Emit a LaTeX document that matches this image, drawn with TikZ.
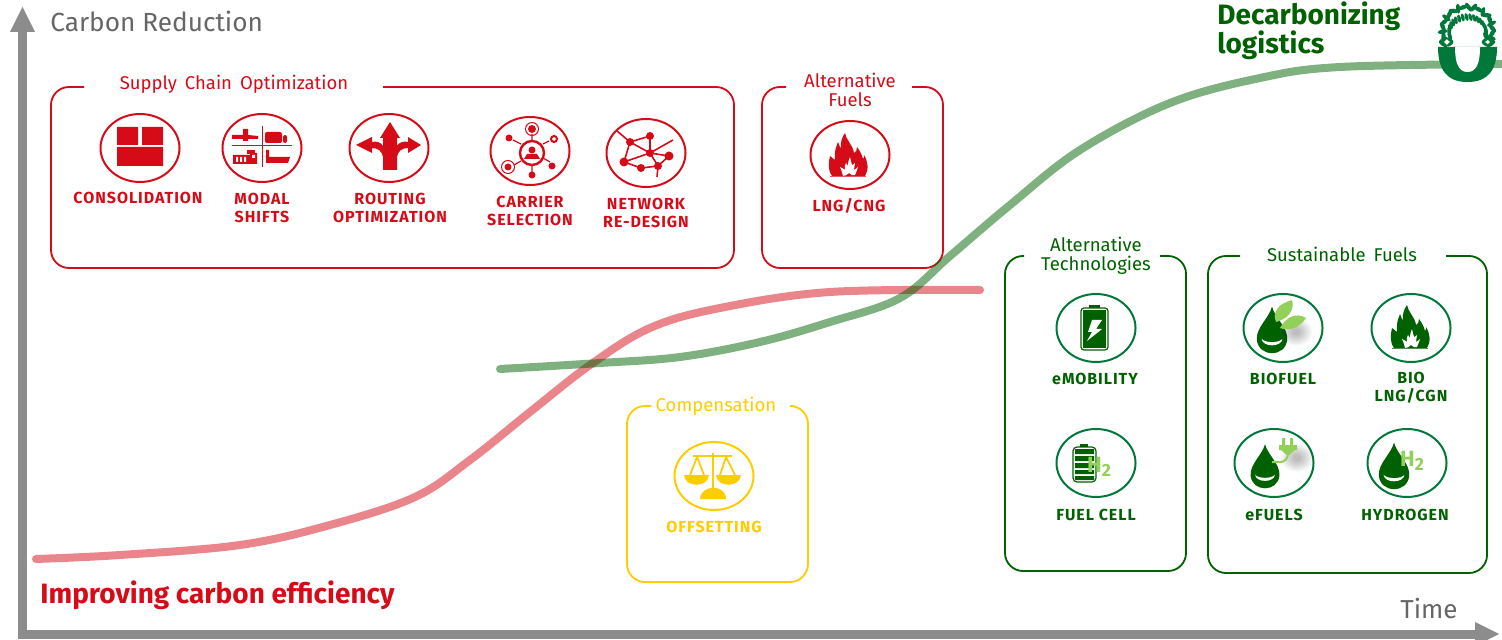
\documentclass[tikz,border=0pt]{standalone}
\usepackage{fontspec}
\setmainfont{Fira Sans}
\newfontfamily\labfont[LetterSpace=6]{Fira Sans}
\usetikzlibrary{arrows.meta,shapes.geometric}
\definecolor{cred}{HTML}{D50C18}
\definecolor{cgreen}{HTML}{006100}
\definecolor{cring}{HTML}{00783A}
\definecolor{clime}{HTML}{93D05A}
\definecolor{cyel}{HTML}{FFCC00}
\definecolor{cgray}{HTML}{8C8C8C}
\tikzset{
 ring/.style={ellipse,draw=#1,line width=1pt,minimum width=39.5pt,minimum height=34pt,inner sep=0pt,fill=white},
 lab/.style={font=\labfont\fontsize{8}{9}\selectfont\bfseries,align=center,text=#1},
 boxtitle/.style={font=\fontsize{9.25}{9.5}\selectfont,align=center,text=#1},
 frame/.style={draw=#1,line width=0.9pt,rounded corners=9pt},
 axis/.style={draw=cgray,line width=4.5pt},
 leafmark/.style={fill=cring},
}
\newcommand{\boxopen}[7]{% colour, gapL, L, top, R, bot, gapR
 \draw[frame=#1] (#2,#4) -- (#3,#4) -- (#3,#6) -- (#5,#6) -- (#5,#4) -- (#7,#4);}
\newcommand{\flame}[3]{% cx, cy, colour
 \begin{scope}[shift={(#1,#2)}]
 \fill[#3] (-17,21) .. controls (-22,14) and (-20,6) .. (-19,1)
  .. controls (-17,3) and (-15,4) .. (-14,5)
  .. controls (-15,-3) and (-13,-8) .. (-11,-13)
  .. controls (-10,-10) and (-9,-8) .. (-8,-6)
  .. controls (-9,-12) and (-7,-18) .. (-4,-22)
  .. controls (-3,-15) and (4,-10) .. (5,-2)
  .. controls (7,-3) and (8,-5) .. (8,-8)
  .. controls (11,-4) and (13,0) .. (14,4)
  .. controls (15,3) and (15,2) .. (15,0)
  .. controls (19,6) and (20,15) .. (16,21) -- cycle;
 \fill[white] (-6,21) .. controls (-7,17) and (-8,14) .. (-9,12)
  .. controls (-7,13) and (-5,14) .. (-4,15)
  .. controls (-4,12) and (-5,10) .. (-3,8)
  .. controls (-2,9) and (-2,10) .. (-1,11)
  .. controls (-1,7) and (0,4) .. (1,2)
  .. controls (2,5) and (2,8) .. (3,10)
  .. controls (4,10) and (5,9) .. (6,8)
  .. controls (6,10) and (5,12) .. (5,15)
  .. controls (7,14) and (8,13) .. (9,12)
  .. controls (8,15) and (7,18) .. (6,20) .. controls (4,21) and (2,20) .. (0,18) .. controls (-2,20) and (-4,21) .. (-6,21) -- cycle;
 \fill[#3!70!white] (-19,21) rectangle (17,22);
 \end{scope}}
\newcommand{\drop}[3]{% cx, cy (centre of bulb), scale
 \begin{scope}[shift={(#1,#2)},scale=#3]
 \fill[cgreen] (0,-32) .. controls (3,-20) and (17,-10) .. (16,3)
  .. controls (15,12) and (8,17) .. (0,17)
  .. controls (-8,17) and (-15,12) .. (-16,3)
  .. controls (-17,-10) and (-3,-20) .. (0,-32) -- cycle;
 \fill[white] (-11,2) .. controls (-10,11) and (10,11) .. (11,2) .. controls (7,6.5) and (-7,6.5) .. (-11,2) -- cycle;
 \end{scope}}
\newcommand{\softshadow}[2]{% centre x, y
 \foreach \r in {4,6,...,16}{\fill[black,opacity=.04] (#1,#2) ellipse ({\r} and {\r*.85});}}
\newcommand{\htwo}[3]{\node[font=\fontsize{#3}{#3}\selectfont\bfseries,text=clime,inner sep=0pt] (#1) at #2 {H\raisebox{-0.35ex}{\scalebox{0.8}{2}}};}
\begin{document}
\begin{tikzpicture}[x=0.5pt,y=-0.5pt]
\useasboundingbox (0,0) rectangle (1502,640);
% axes
\coordinate (origin) at (22.5,634);
\coordinate (ytip) at (22.5,7);
\coordinate (xtip) at (1499,634);
\draw[axis] (22.5,30) -- (origin) -- (1478,634);
\fill[cgray] (ytip) -- (35,32) -- (10,32) -- cycle;
\fill[cgray] (xtip) -- (1475,622) -- (1475,646) -- cycle;
\node[font=\fontsize{13.1}{13.1}\selectfont,text=black!60,anchor=west,inner sep=0pt] (ylabel) at (50,21) {Carbon Reduction};
\node[font=\fontsize{13}{13}\selectfont,text=black!60,anchor=east,inner sep=0pt] (xlabel) at (1458,609) {Time};
\node[font=\fontsize{14}{14}\selectfont\bfseries,text=cred,anchor=west,inner sep=0pt] (eff) at (40,595) {Improving carbon efficiency};
\node[font=\fontsize{14}{13.6}\selectfont\bfseries,text=cgreen,anchor=north west,align=left,inner sep=0pt] (dec) at (1217,1) {Decarbonizing\\[-1pt]logistics};
% frames
\boxopen{cred}{84}{51}{87}{734}{268}{383}
\node[boxtitle=cred] (t1) at (234,84) {Supply\, Chain\, Optimization};
\boxopen{cred}{786}{762}{87}{943}{268}{912}
\node[boxtitle=cred] (t2) at (850,90) {Alternative\\Fuels};
\boxopen{cyel}{651}{627}{406}{808}{582}{793}
\node[boxtitle=cyel] (t3) at (716,406) {Compensation};
\boxopen{cgreen}{1024}{1005}{256}{1186}{571}{1160}
\node[boxtitle=cgreen] (t4) at (1096,256) {Alternative\\Technologies};
\boxopen{cgreen}{1240}{1208}{256}{1487}{573}{1446}
\node[boxtitle=cgreen] (t5) at (1342,254) {Sustainable\, Fuels};
% rings
\node[ring=cred] (r1) at (140,148) {};
\node[ring=cred] (r2) at (262,148) {};
\node[ring=cred] (r3) at (389,148) {};
\node[ring=cred] (r4) at (530,151) {};
\node[ring=cred] (r5) at (646,153) {};
\node[ring=cred] (r6) at (850,155) {};
\node[ring=cyel] (r7) at (714,476) {};
\node[ring=cring] (r8) at (1096,328) {};
\node[ring=cring] (r9) at (1096,463) {};
\node[ring=cring] (r10) at (1283,328) {};
\node[ring=cring] (r11) at (1411,328) {};
\node[ring=cring] (r12) at (1274,463) {};
\node[ring=cring] (r13) at (1407,463) {};
% labels
\node[lab=cred] (l1) at (138,198) {CONSOLIDATION};
\node[lab=cred] (l2) at (262,208) {MODAL\\SHIFTS};
\node[lab=cred] (l3) at (390,208) {ROUTING\\OPTIMIZATION};
\node[lab=cred] (l4) at (530,211) {CARRIER\\SELECTION};
\node[lab=cred] (l5) at (646,213) {NETWORK\\RE-DESIGN};
\node[lab=cred] (l6) at (849,206) {LNG/CNG};
\node[lab=cyel] (l7) at (714,527) {OFFSETTING};
\node[lab=cgreen] (l8) at (1095,379) {eMOBILITY};
\node[lab=cgreen] (l9) at (1096,515) {FUEL CELL};
\node[lab=cgreen] (l10) at (1283,379) {BIOFUEL};
\node[lab=cgreen] (l11) at (1411,388) {BIO\\LNG/CGN};
\node[lab=cgreen] (l12) at (1274,515) {eFUELS};
\node[lab=cgreen] (l13) at (1405,515) {HYDROGEN};
% consolidation
\fill[cred] (117,127) rectangle (138,145) (142,127) rectangle (163,145) (117,147) rectangle (163,166);
% modal shifts
\draw[cred,line width=0.5pt] (262,126) -- (262,167) (232,146) -- (292,146);
\fill[cred] (232,135) -- (243,135) -- (243,129) -- (248,129) -- (248,135) -- (258,136) -- (258,139) -- (248,139) -- (248,141) -- (243,141) -- (243,139) -- (232,139) -- cycle;
\fill[cred,rounded corners=1pt] (265,132) rectangle (282,143) (283,135) rectangle (287,143);
\fill[cred] (233,155) rectangle (250,164) (250,153) rectangle (257,164);
\fill[cred] (247,150) rectangle (255,154);
\fill[white] (236,157) rectangle (238,162) (240,157) rectangle (242,162) (244,157) rectangle (246,162) (252,155) rectangle (255,158);
\fill[cred] (266,150) -- (269,150) -- (269,157) -- (290,157) -- (288,163) -- (266,163) -- cycle;
% routing
\fill[cred] (383,170) -- (383,157) .. controls (382,151) and (378,148) .. (372,148) -- (372,153) -- (356,145) -- (372,137) -- (372,142) .. controls (376,141) and (381,142) .. (383,146)
 -- (383,138) -- (380,138) -- (390,122) -- (400,138) -- (397,138) -- (397,146) .. controls (399,142) and (404,141) .. (408,142) -- (408,137) -- (421,145) -- (408,153) -- (408,148) .. controls (402,148) and (398,151) .. (397,157) -- (397,170) -- cycle;
% carrier
\begin{scope}[shift={(r4.center)}]
 \draw[cred,line width=1.2pt] (2,2) circle (12);
 \fill[cred] (2,-1) circle (3.5);
 \fill[cred] (-6,8) -- (-3,3) -- (7,3) -- (10,8) -- cycle;
 \draw[cred,line width=0.6pt] (2,-10) -- (2,-17) (2,14) -- (2,22) (-9,-7) -- (-17,-11) (13,-7) -- (19,-10) (-9,10) -- (-16,14) (13,7) -- (20,11);
 \fill[cred] (2,-22) circle (4) (2,24) circle (3.5) (-21,-13) circle (3.5) (22,15) circle (3.5) (-22,16) circle (3.5);
 \draw[cred,line width=0.5pt] (2,-22) circle (6.5) (-22,16) circle (6.5);
 \draw[cred,line width=1pt] (24,-12) circle (3);
\end{scope}
% network
\coordinate (na) at (630,142); \coordinate (nb) at (650,136); \coordinate (nc) at (650,153);
\coordinate (nd) at (669,156); \coordinate (ne) at (624,162); \coordinate (nf) at (641,168);
\coordinate (ng) at (658,166);
\draw[cred,line width=0.8pt] (617,131) -- (na) -- (nb) -- (nc) -- (na) -- (ne) -- (nc) -- (ng) -- (nd) -- (nc) -- (673,140);
\draw[cred,line width=0.8pt] (ne) -- (nf) -- (ng) (ng) -- (657,177);
\fill[cred] (na) circle (4) (nb) circle (4) (nc) circle (4) (nd) circle (4.5) (ne) circle (4.5) (nf) circle (4) (ng) circle (4);
% flames
\flame{849}{155}{cred}
\flame{1411}{327}{cgreen}
% offsetting
\begin{scope}[shift={(r7.center)}]
 \draw[cyel,line width=1.2pt] (-21,-20) -- (18,-20);
 \draw[cyel,line width=1.2pt] (-1,-23) -- (-1,14);
 \draw[cyel,line width=0.9pt] (-24,-1) -- (-17,-19) -- (-10,-1) (6,-1) -- (12,-19) -- (21,-1);
 \fill[cyel] (-30,-1) -- (-5,-1) .. controls (-6,12) and (-29,12) .. (-30,-1) -- cycle;
 \fill[cyel] (2,-1) -- (27,-1) .. controls (26,12) and (3,12) .. (2,-1) -- cycle;
 \fill[cyel] (-14,23) .. controls (-13,8) and (12,8) .. (12,23) -- cycle;
\end{scope}
% emobility battery
\begin{scope}[shift={(r8.center)}]
 \fill[cgreen] (-7,-23) rectangle (4,-20);
 \draw[cgreen,line width=0.6pt,rounded corners=1.5pt] (-15,-20) rectangle (12,22);
 \fill[cgreen] (-13,-18) rectangle (10,20);
 \fill[white] (-4,-8) -- (6,-8) -- (0,1) -- (6,1) -- (-9,13) -- (-4,4) -- (-8,4) -- cycle;
\end{scope}
% fuel cell
\begin{scope}[shift={(r9.center)}]
 \fill[cgreen] (-16,-19) rectangle (-8,-16);
 \draw[cgreen,line width=0.6pt,rounded corners=2pt] (-23,-16) rectangle (0,19);
 \fill[cgreen] (-21,-14) rectangle (-2,-9) (-21,-7) rectangle (-2,-2) (-21,0) rectangle (-2,5) (-21,7) rectangle (-2,11) (-21,13) rectangle (-2,17);
\end{scope}
\htwo{h1}{(1099,467)}{11}
% biofuel
\drop{1272}{337}{0.95}
\softshadow{1296}{332}
\fill[clime] (1276,322) .. controls (1272,312) and (1278,304) .. (1292,300) .. controls (1295,310) and (1288,319) .. (1276,322) -- cycle;
\fill[clime] (1280,328) .. controls (1286,317) and (1296,312) .. (1306,318) .. controls (1300,327) and (1290,332) .. (1280,328) -- cycle;
% eFuels
\drop{1265}{473}{0.9}
\softshadow{1297}{458}
\draw[clime,line width=1pt] (1272,462) -- (1280,462) .. controls (1285,462) and (1288,459) .. (1288,452);
\fill[clime] (1279,445) rectangle (1297,450) (1281,450) -- (1295,450) -- (1288,456) -- cycle (1282,438) rectangle (1285,445) (1290,438) rectangle (1293,445);
% hydrogen
\drop{1394}{473}{0.95}
\htwo{h2}{(1412,461)}{11}
% curves
\draw[line width=4pt,line cap=round,draw=cred,opacity=.5] plot[smooth,tension=.6] coordinates {(36,559) (120,555) (240,545) (330,525) (415,497) (470,460) (530,412) (590,365) (650,328) (720,308) (830,292) (980,290)};
\draw[line width=4pt,line cap=round,draw=cgreen,opacity=.5] plot[smooth,tension=.6] coordinates {(500,369) (600,363) (680,357) (760,342) (830,322) (900,298) (950,256) (1010,205) (1080,150) (1170,103) (1260,78) (1340,67) (1502,64)};
% logo (sits over the curve)
\fill[white] (1440,47) .. controls (1440,15) and (1450,4) .. (1467.5,4) .. controls (1485,4) and (1495,15) .. (1495,47) -- (1495,60) -- (1440,60) -- cycle;
\fill[cring] (1438,47) -- (1497,47) .. controls (1497,70) and (1488,82) .. (1467.5,82) .. controls (1447,82) and (1438,70) .. (1438,47) -- cycle;
\fill[white] (1455,47) .. controls (1455,62) and (1458,72) .. (1467.5,72) .. controls (1477,72) and (1480,62) .. (1480,47) -- cycle;
\foreach \a [count=\i] in {-20,-8,...,200}{
 \fill[leafmark,rotate around={\a*3+\i*40:({1467.5+25*cos(\a)},{30-23*sin(\a)})}] ({1467.5+25*cos(\a)},{30-23*sin(\a)}) ellipse (5 and 2.2);
 \fill[leafmark,rotate around={\a*2-\i*25:({1467.5+18.5*cos(\a+5)},{32-15*sin(\a+5)})}] ({1467.5+18.5*cos(\a+5)},{32-15*sin(\a+5)}) ellipse (4 and 1.8);
}
\foreach \y/\r in {40/35,44/-35}{
 \fill[leafmark,rotate around={\r:(1443,\y)}] (1443,\y) ellipse (5 and 2);
 \fill[leafmark,rotate around={-\r:(1491,\y)}] (1491,\y) ellipse (5 and 2);
 \fill[leafmark,rotate around={-\r:(1450,\y)}] (1450,\y) ellipse (4 and 1.6);
 \fill[leafmark,rotate around={\r:(1485,\y)}] (1485,\y) ellipse (4 and 1.6);
}
\end{tikzpicture}
\end{document}
